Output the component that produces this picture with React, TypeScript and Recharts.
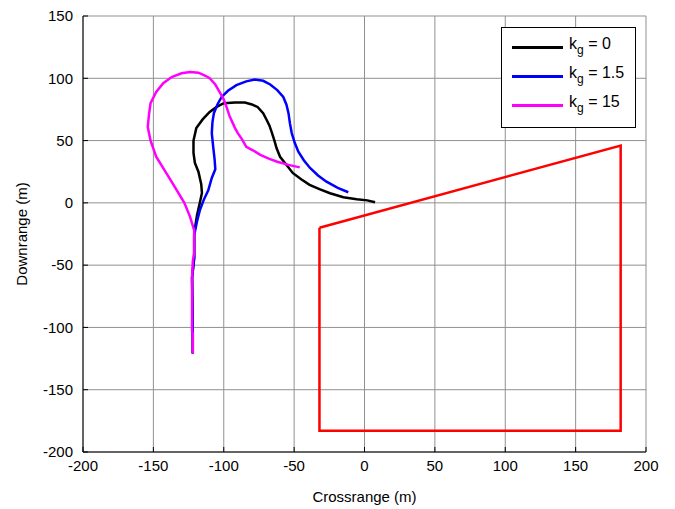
import React from 'react';
import { LineChart, Line, XAxis, YAxis, CartesianGrid } from 'recharts';

// trajectories, [crossrange, downrange] in metres
const KG0: [number, number][] = [
  [-122, -121], [-122, -105], [-122.5, -60], [-121, -44], [-121, -24], [-119, -10], [-117, 0],
  [-115.5, 8], [-116, 15], [-118, 25], [-120.5, 32], [-121.5, 40], [-121.5, 50], [-119.5, 60],
  [-115, 67], [-110, 73], [-105, 77], [-100, 80], [-92, 80.5], [-85, 80.5], [-80, 79], [-76, 77],
  [-72, 72], [-69.5, 66.5], [-67.5, 62], [-66, 57], [-64, 50], [-62.5, 44], [-60, 37], [-56.5, 32],
  [-51, 24], [-45, 19], [-39, 14.5], [-32, 11], [-24.5, 7.7], [-15, 4.5], [-5.5, 2.9], [2, 2], [7.5, 0.5],
];

const KG1_5: [number, number][] = [
  [-122, -121], [-122, -105], [-122.5, -60], [-121, -44], [-121, -26], [-119, -15], [-117, -6],
  [-114, 3], [-111, 10], [-108.5, 20], [-106, 27], [-106.5, 35], [-107.5, 45], [-108.5, 56],
  [-108, 65], [-107, 72], [-104.5, 79], [-101.5, 85], [-97, 90], [-91, 94.5], [-84, 97.5], [-78, 99],
  [-72, 98], [-67, 95], [-62, 90.5], [-57.7, 85], [-55.5, 79], [-54, 72], [-53, 64], [-51.7, 56],
  [-49.5, 48], [-47, 41], [-43, 34], [-38.7, 28], [-33, 22], [-27, 17], [-19, 12], [-11.5, 8.5],
];

const KG15: [number, number][] = [
  [-122, -121], [-122, -105], [-122.5, -103], [-122.5, -60], [-122, -47], [-121, -40], [-121, -22],
  [-124, -11], [-128, 0], [-136, 15], [-142, 26], [-148, 37], [-152, 50], [-154, 61], [-153, 72],
  [-152, 80], [-148, 89], [-143, 96], [-137, 101], [-130, 104], [-124, 105], [-118, 104.5],
  [-113, 102], [-110, 100], [-106, 95], [-103, 89], [-100, 83], [-98, 77], [-96, 70], [-94, 65],
  [-92, 60], [-90, 56], [-87, 51], [-84, 45], [-79, 42], [-74, 38.5], [-68, 35.5], [-62, 33],
  [-54, 30.5], [-46, 28.5],
];

// target zone outline
const ZONE: [number, number][] = [[-32, -20], [182, 46], [182, -183], [-32, -183], [-32, -20]];

const X_TICKS = [-200, -150, -100, -50, 0, 50, 100, 150, 200];
const Y_TICKS = [-200, -150, -100, -50, 0, 50, 100, 150];

const SERIES = [
  { name: '0', color: '#000000', pts: KG0 },
  { name: '1.5', color: '#0000ff', pts: KG1_5 },
  { name: '15', color: '#ff00ff', pts: KG15 },
];

const toRows = (pts: [number, number][]) => pts.map(([x, y]) => ({ x, y }));

const FONT = 'Liberation Sans, Arial, sans-serif';

export default function App() {
  return (
    <div style={{ position: 'absolute', left: 0, top: 0, width: 675, height: 509, background: '#fff', fontFamily: FONT }}>
      <LineChart width={675} height={509} margin={{ top: 16, right: 29, left: 0, bottom: 0 }}>
        <CartesianGrid stroke="#909090" strokeWidth={1} />
        <XAxis
          type="number"
          dataKey="x"
          domain={[-200, 200]}
          ticks={X_TICKS}
          allowDataOverflow
          height={57}
          tickSize={-5}
          tickMargin={13}
          tickLine={{ stroke: '#000' }}
          axisLine={{ stroke: '#000' }}
          tick={{ fill: '#000', fontSize: 15, fontFamily: FONT }}
          label={{ value: 'Crossrange (m)', position: 'insideBottom', offset: 7, fill: '#000', fontSize: 15, fontFamily: FONT }}
        />
        <XAxis xAxisId="top" orientation="top" type="number" domain={[-200, 200]} ticks={X_TICKS} height={0}
          tick={false} tickSize={-5} tickLine={{ stroke: '#000' }} axisLine={{ stroke: '#000' }} />
        <YAxis
          type="number"
          dataKey="y"
          domain={[-200, 150]}
          ticks={Y_TICKS}
          allowDataOverflow
          width={83}
          tickSize={-5}
          tickMargin={15}
          tickLine={{ stroke: '#000' }}
          axisLine={{ stroke: '#000' }}
          tick={{ fill: '#000', fontSize: 15, fontFamily: FONT }}
          label={{ value: 'Downrange (m)', angle: -90, position: 'insideLeft', offset: 22, fill: '#000', fontSize: 15, fontFamily: FONT, style: { textAnchor: 'middle' } }}
        />
        <YAxis yAxisId="right" orientation="right" type="number" domain={[-200, 150]} ticks={Y_TICKS} width={0}
          tick={false} tickSize={-5} tickLine={{ stroke: '#000' }} axisLine={{ stroke: '#000' }} />
        <Line data={toRows(ZONE)} dataKey="y" stroke="#ff0000" strokeWidth={2.5} dot={false} type="linear" isAnimationActive={false} />
        {SERIES.map((s) => (
          <Line
            key={s.name}
            data={toRows(s.pts)}
            dataKey="y"
            stroke={s.color}
            strokeWidth={2.5}
            dot={false}
            type="linear"
            isAnimationActive={false}
          />
        ))}
      </LineChart>
      <div
        style={{
          position: 'absolute',
          left: 501,
          top: 27,
          width: 133,
          height: 99,
          border: '1px solid #000',
          background: '#fff',
        }}
      >
        {SERIES.map((s, i) => (
          <div key={s.name} style={{ position: 'absolute', left: 10, top: 7 + i * 29, height: 24, display: 'flex', alignItems: 'center' }}>
            <div style={{ width: 51, height: 3, background: s.color }} />
            <span style={{ marginLeft: 6, fontSize: 16, color: '#000', whiteSpace: 'nowrap', lineHeight: '16px' }}>
              k<sub style={{ fontSize: 12, verticalAlign: -5 }}>g</sub> = {s.name}
            </span>
          </div>
        ))}
      </div>
    </div>
  );
}
